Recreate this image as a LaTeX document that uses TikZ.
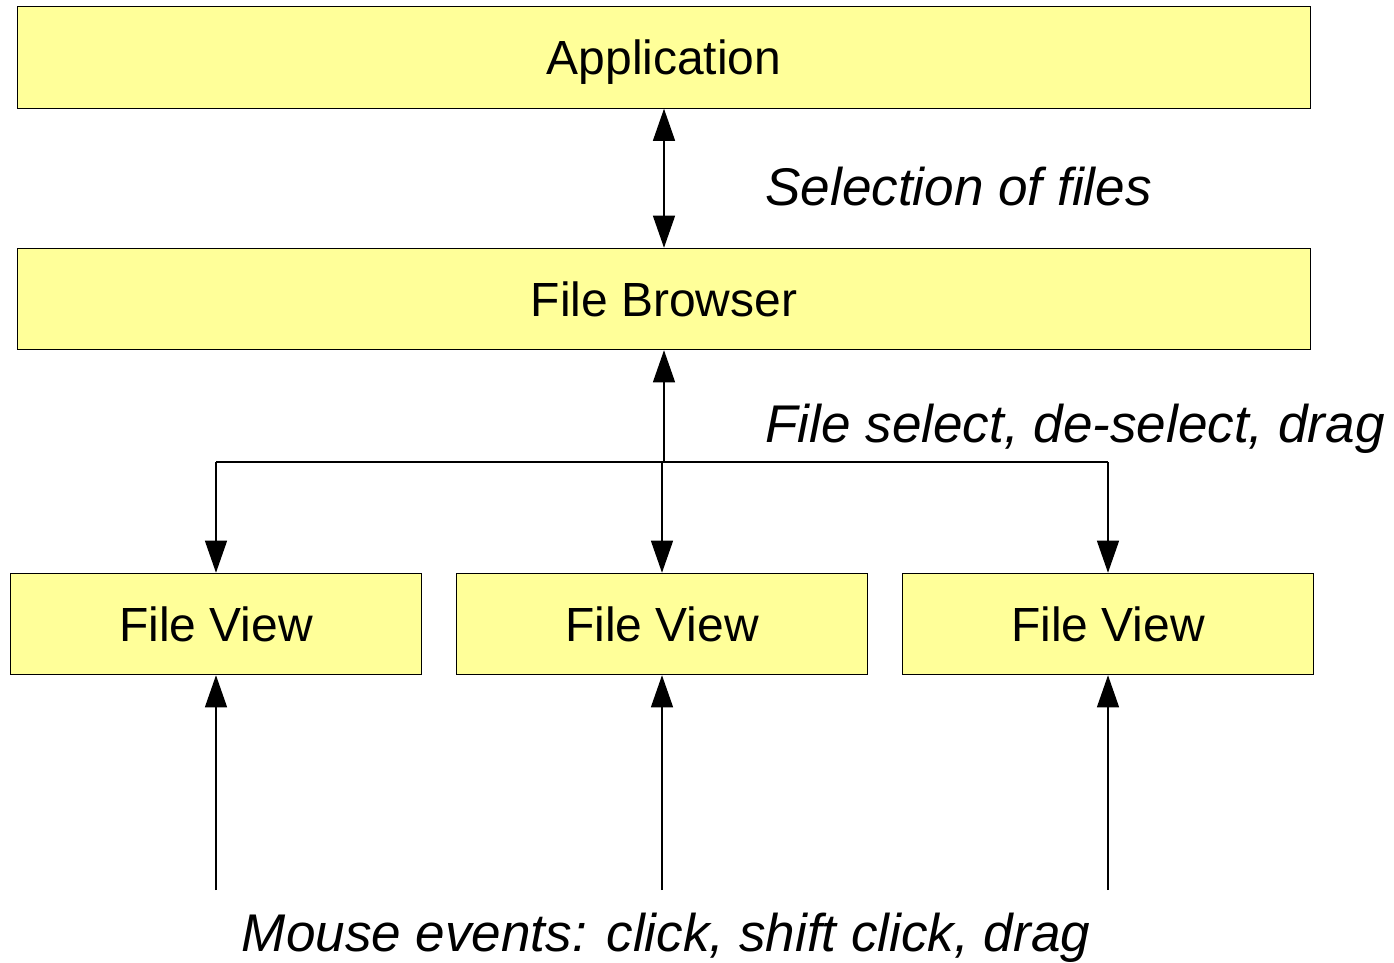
\documentclass[tikz,border=0pt]{standalone}
\usepackage{fontspec}
\setmainfont{Liberation Sans}
\usetikzlibrary{arrows.meta}
\definecolor{boxyellow}{RGB}{255,255,153}

\tikzset{
  layer/.style={draw=black, fill=boxyellow, line width=0.6pt, inner sep=0pt,
    minimum height=2.03cm, text height=19.5pt, text depth=0pt,
    font=\fontsize{27.3}{32}\selectfont},
  wide/.style={layer, minimum width=25.88cm},
  view/.style={layer, minimum width=8.24cm},
  msg/.style={font=\fontsize{30.2}{36}\selectfont\itshape, inner sep=0pt},
  arr/.style={line width=0.7pt, -{Triangle[length=0.64cm, width=0.44cm]}},
  biarr/.style={line width=0.7pt, {Triangle[length=0.64cm, width=0.44cm]}-{Triangle[length=0.64cm, width=0.44cm]}},
}

\begin{document}
\begin{tikzpicture}[x=0.02cm, y=-0.02cm]

\useasboundingbox (0,0) rectangle (1394,963);

%layers
\node[wide] (app) at (664,57.5) {Application};
\node[wide] (browser) at (664,299) {File Browser};
\node[view] (view1) at (216,624) {File View};
\node[view] (view2) at (662,624) {File View};
\node[view] (view3) at (1108,624) {File View};

%app <-> browser
\draw[biarr] (app) -- (browser);
\node[msg, anchor=base west] (sel) at (765,206) {Selection of files};

%browser <-> views
\coordinate (split) at (664,462);
\draw[arr] (split) -- (browser);
\draw[line width=0.7pt] (view1.north |- split) -- (view3.north |- split);
\draw[arr] (view1.north |- split) -- (view1);
\draw[arr] (view2.north |- split) -- (view2);
\draw[arr] (view3.north |- split) -- (view3);
\node[msg, anchor=base west] (fsel) at (765,442) {File select, de-select, drag};

%mouse
\foreach \i in {1,2,3} {
  \coordinate (m\i) at (view\i.south |- 0,890);
  \draw[arr] (m\i) -- (view\i);
}
\node[msg, anchor=base] (mouse) at (666,951) {Mouse events: click, shift click, drag};

\end{tikzpicture}
\end{document}
